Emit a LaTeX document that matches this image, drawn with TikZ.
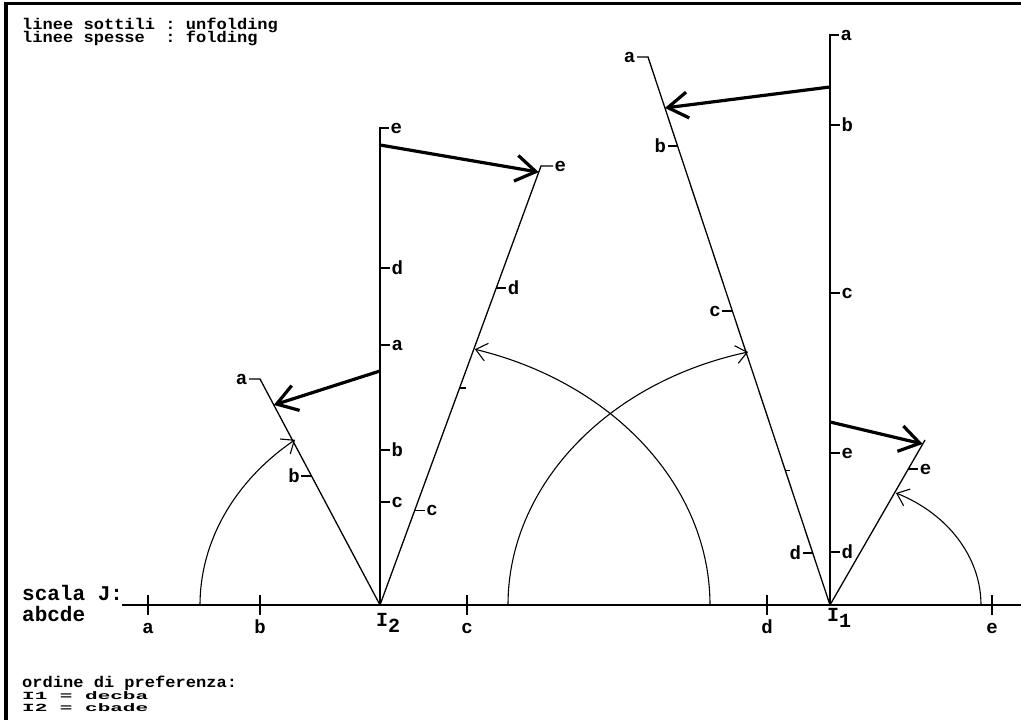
\documentclass[tikz,border=0pt]{standalone}
\usepackage{fontspec}
\setmonofont{Liberation Mono}
\usepackage{graphicx}
\usetikzlibrary{calc,arrows.meta}

\begin{document}
\begin{tikzpicture}[
        x=1pt, y=1pt,
        thinline/.style={line width=1.3pt},
        foldarrow/.style={-{Straight Barb[length=20pt,width=26pt]}, line width=3.2pt},
        unfoldarrow/.style={-{Straight Barb[length=11pt,width=18pt]}, line width=1.1pt},
        scaletick/.style={line width=2.4pt},
        lab/.style={font=\ttfamily\bfseries\fontsize{19}{19}\selectfont, inner sep=1pt},
        ilab/.style={font=\ttfamily\bfseries\fontsize{20}{20}\selectfont, inner sep=0pt, anchor=base},
        txt/.style={font=\ttfamily\bfseries\fontsize{15.5}{11}\selectfont, inner sep=0pt, anchor=base west},
        small/.style={font=\ttfamily\bfseries\fontsize{21}{21}\selectfont, inner sep=0pt, anchor=base west},
        scl/.style={font=\ttfamily\bfseries\fontsize{21}{21}\selectfont, inner sep=0pt, anchor=base west}
    ]
        \useasboundingbox (0,0) rectangle (1021,720);
        \draw[line width=3.5pt] (6,0) -- (6,716.5) -- (1021,716.5);

        % legenda
        \node[txt] (leg1) at (22,690.5) {\scalebox{1.1}[1]{linee sottili : unfolding}};
        \node[txt] (leg2) at (22,677) {\scalebox{1.1}[1]{linee spesse\ \ : folding}};

        % scala J
        \node[scl] (scala) at (22,119.5) {scala J:};
        \node[scl] (abcde) at (22,98) {abcde};
        \coordinate (I2) at (380,115);
        \coordinate (I1) at (830,115);
        \coordinate (s0) at (122,115);
        \coordinate (s1) at (1021,115);
        \draw[thinline] (s0) -- (s1);
        \foreach \x/\l in {148/a,260/b,467/c,767/d,992/e}{
            \draw[scaletick] (\x,105) -- (\x,125);
            \node[lab, anchor=base] (s\l) at (\x,86) {\l};
        }
        \node[ilab] (nI2) at (388,93) {I\raisebox{-6pt}{2}};
        \node[ilab] (nI1) at (839,98) {I\raisebox{-6pt}{1}};

        % I2: cbade
        \coordinate (I2top) at (380,592);
        \draw[thinline] (I2) -- (I2top) -- ++(9,0) node[lab, anchor=west] (v2e) {e};
        \foreach \y/\l in {452/d,375/a,270/b,218/c}
            \draw[thinline] (380,\y) -- (390,\y) node[lab, anchor=west] (v2\l) {\l};
        \coordinate (L2) at (260,341);
        \draw[thinline] (I2) -- (L2) -- ++(-11,0) node[lab, anchor=east] (l2a) {a};
        \draw[thinline] ($(I2)!0.571!(L2)$) -- ++(-10,0) node[lab, anchor=east] (l2b) {b};
        \coordinate (R2) at (541,554);
        \draw[thinline] (I2) -- (R2) -- ++(12,0) node[lab, anchor=west] (r2e) {e};
        \draw[thinline] ($(I2)!0.722!(R2)$) -- ++(10,0) node[lab, anchor=west] (r2d) {d};
        \draw[thinline] ($(I2)!0.216!(R2)$) -- ++(10,0) node[lab, anchor=west] (r2c) {c};
        \draw[thinline] ($(I2)!0.494!(R2)$) -- ++(6,0);

        % I1: decba
        \coordinate (I1top) at (830,685);
        \draw[thinline] (I1) -- (I1top) -- ++(9,0) node[lab, anchor=west] (v1a) {a};
        \foreach \y/\l in {595/b,427/c,267/e,168/d}
            \draw[thinline] (830,\y) -- (840,\y) node[lab, anchor=west] (v1\l) {\l};
        \coordinate (L1) at (648,663);
        \draw[thinline] (I1) -- (L1) -- ++(-11,0) node[lab, anchor=east] (l1a) {a};
        \draw[thinline] ($(I1)!0.8376!(L1)$) -- ++(-10,0) node[lab, anchor=east] (l1b) {b};
        \draw[thinline] ($(I1)!0.5365!(L1)$) -- ++(-10,0) node[lab, anchor=east] (l1c) {c};
        \draw[thinline] ($(I1)!0.0949!(L1)$) -- ++(-10,0) node[lab, anchor=east] (l1d) {d};
        \draw[thinline] ($(I1)!0.246!(L1)$) -- ++(5,0);
        \coordinate (R1) at (925,280);
        \draw[thinline] (I1) -- (R1);
        \draw[thinline] ($(I1)!0.824!(R1)$) -- ++(10,0) node[lab, anchor=west] (r1e) {e};

        % frecce spesse (folding)
        \coordinate (f1s) at (380,349);
        \coordinate (f1t) at ($(I2)!0.885!(L2)$);
        \coordinate (f2s) at (380,575);
        \coordinate (f2t) at ($(I2)!0.986!(R2)$);
        \coordinate (f3s) at (830,633);
        \coordinate (f3t) at ($(I1)!0.907!(L1)$);
        \coordinate (f4s) at (830,298);
        \coordinate (f4t) at ($(I1)!0.976!(R1)$);
        \draw[foldarrow] (f1s) -- (f1t);
        \draw[foldarrow] (f2s) -- (f2t);
        \draw[foldarrow] (f3s) -- (f3t);
        \draw[foldarrow] (f4s) -- (f4t);

        % archi sottili (unfolding)
        \coordinate (u1) at (200,115);
        \coordinate (u2) at (508,115);
        \coordinate (u3) at (710,115);
        \coordinate (u4) at (981,115);
        \draw[unfoldarrow] (u1) arc[start angle=180, end angle=130.1, x radius=267, y radius=216];
        \draw[unfoldarrow] (u2) arc[start angle=180, end angle=104.75, x radius=322, y radius=261.6];
        \draw[unfoldarrow] (u3) arc[start angle=0, end angle=73.3, x radius=330, y radius=267];
        \draw[unfoldarrow] (u4) arc[start angle=0, end angle=64.1, x radius=151, y radius=124.5];

        % ordine di preferenza
        \node[txt] (ord) at (22,32) {\scalebox{1.1}[1]{ordine di preferenza:}};
        \node[small] (ord1) at (22,20) {\scalebox{1}[0.52]{I1 = decba}};
        \node[small] (ord2) at (22,8.5) {\scalebox{1}[0.52]{I2 = cbade}};
    \end{tikzpicture}
\end{document}
